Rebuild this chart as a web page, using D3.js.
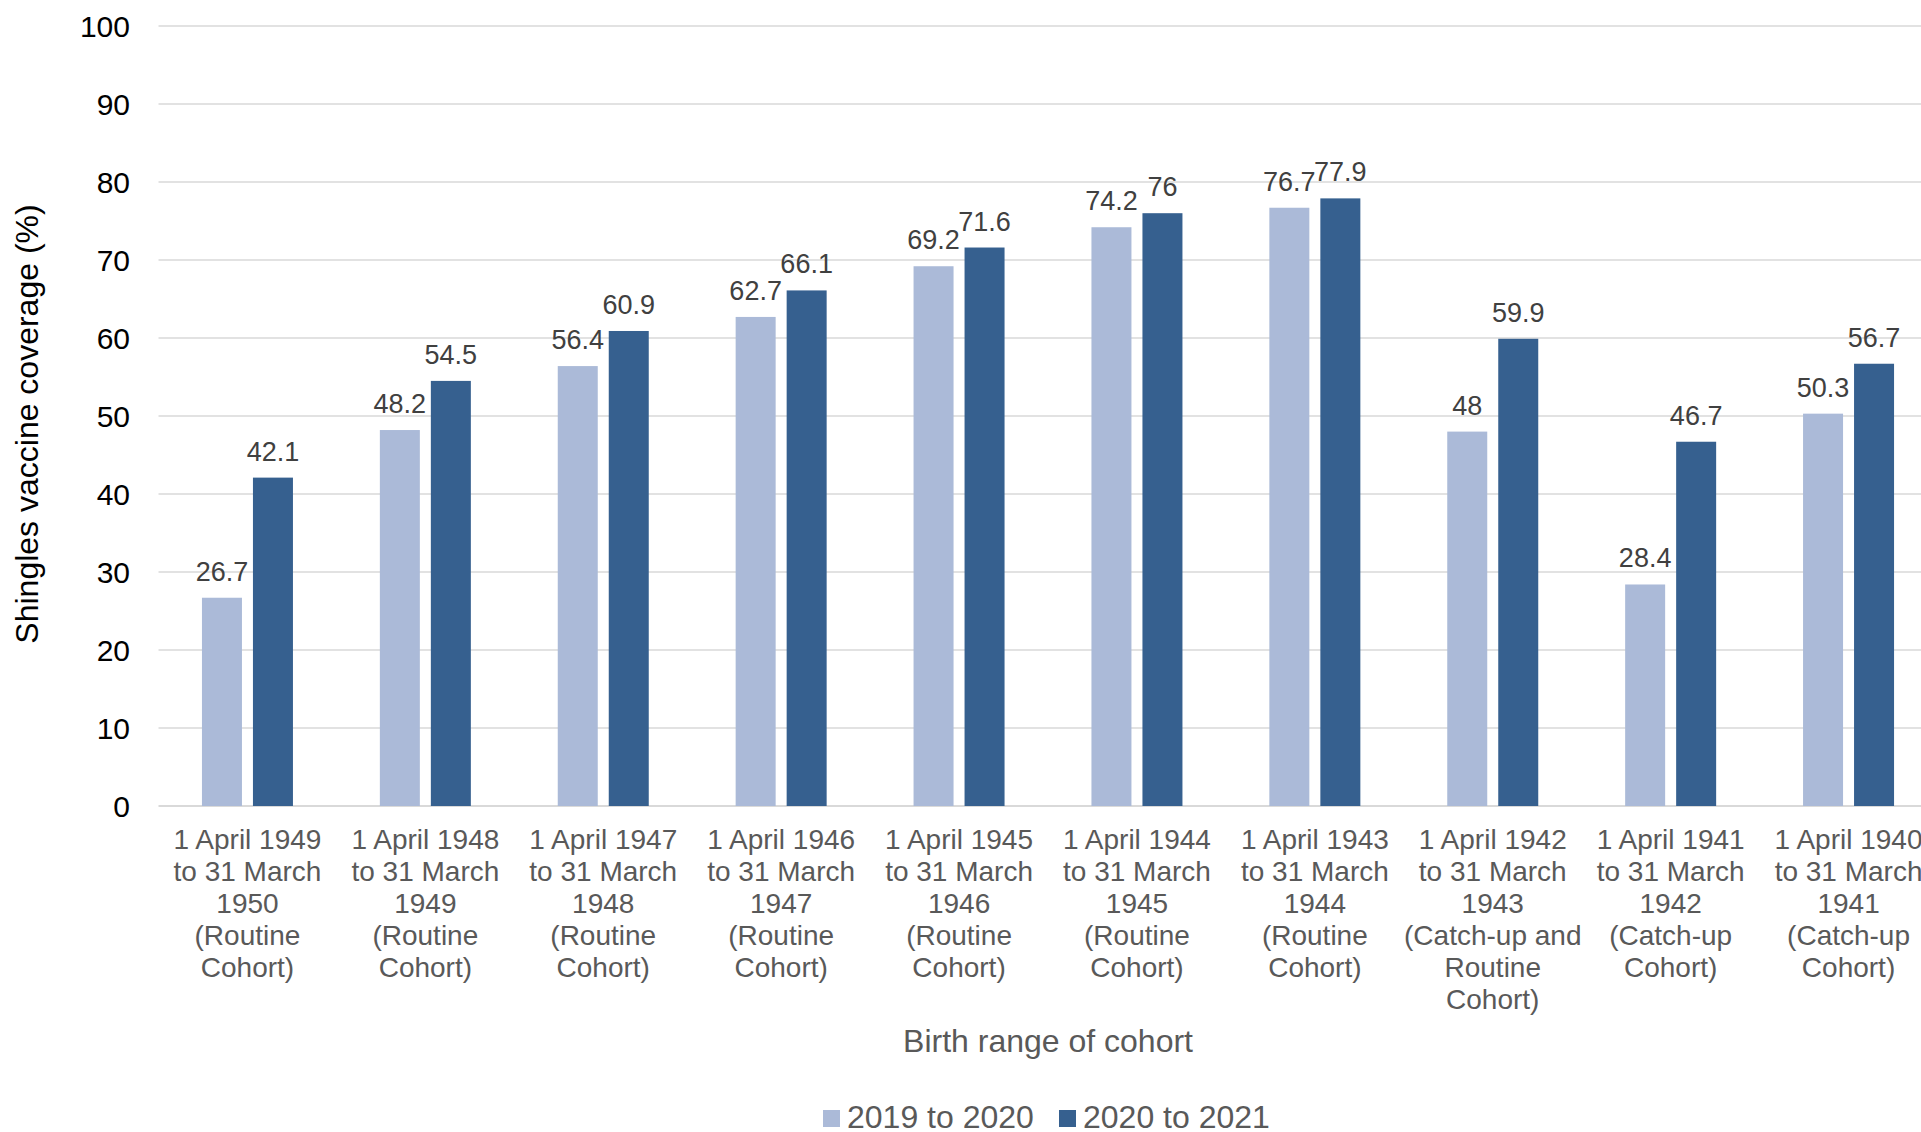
<!DOCTYPE html>
<html>
<head>
<meta charset="utf-8">
<script src="https://cdn.jsdelivr.net/npm/d3@7"></script>
<style>
  html, body { margin: 0; padding: 0; background: #fff; overflow: hidden; }
  svg { display: block; font-family: "Liberation Sans", Arial, sans-serif; }
</style>
</head>
<body>
<div id="chart"></div>
<script>
// cohort labels, each split into its printed lines
const categories = [
  ['1 April 1949', 'to 31 March', '1950', '(Routine', 'Cohort)'],
  ['1 April 1948', 'to 31 March', '1949', '(Routine', 'Cohort)'],
  ['1 April 1947', 'to 31 March', '1948', '(Routine', 'Cohort)'],
  ['1 April 1946', 'to 31 March', '1947', '(Routine', 'Cohort)'],
  ['1 April 1945', 'to 31 March', '1946', '(Routine', 'Cohort)'],
  ['1 April 1944', 'to 31 March', '1945', '(Routine', 'Cohort)'],
  ['1 April 1943', 'to 31 March', '1944', '(Routine', 'Cohort)'],
  ['1 April 1942', 'to 31 March', '1943', '(Catch-up and', 'Routine', 'Cohort)'],
  ['1 April 1941', 'to 31 March', '1942', '(Catch-up', 'Cohort)'],
  ['1 April 1940', 'to 31 March', '1941', '(Catch-up', 'Cohort)']
];
const seriesNames = ['2019 to 2020', '2020 to 2021'];
const values2019 = [26.7, 48.2, 56.4, 62.7, 69.2, 74.2, 76.7, 48, 28.4, 50.3];
const values2020 = [42.1, 54.5, 60.9, 66.1, 71.6, 76, 77.9, 59.9, 46.7, 56.7];
const yTicks = [0, 10, 20, 30, 40, 50, 60, 70, 80, 90, 100];

const colors = ['#abbad8', '#36608f'];
const W = 1921, H = 1132;

const svg = d3.select('#chart').append('svg')
  .attr('width', W)
  .attr('height', H);

const keys = categories.map((_, i) => i);

// the plot runs past the right edge of the picture, like the original
const x = d3.scaleBand().domain(keys).range([158.5, 1937.5]).padding(0);
const xs = d3.scaleBand().domain([0, 1]).range([-45.5, 45.5]).paddingInner(11 / 51).paddingOuter(0);
const y = d3.scaleLinear().domain([0, 100]).range([806, 26]);

// gridlines
svg.append('g')
  .selectAll('line')
  .data(yTicks)
  .join('line')
  .attr('x1', 158.5)
  .attr('x2', 1937.5)
  .attr('y1', d => y(d))
  .attr('y2', d => y(d))
  .attr('stroke', '#d9d9d9')
  .attr('stroke-width', d => d === 0 ? 2 : 1.6);

// y axis labels
const yAxis = svg.append('g')
  .attr('transform', 'translate(130,0)')
  .call(d3.axisLeft(y).tickValues(yTicks).tickSize(0).tickPadding(0));
yAxis.select('.domain').remove();
yAxis.selectAll('text')
  .attr('font-size', 30)
  .attr('font-family', '"Liberation Sans", Arial, sans-serif')
  .attr('fill', '#000')
  .attr('dy', '0.36em');

// bars
const series = [values2019, values2020];
const groups = svg.append('g')
  .selectAll('g')
  .data(keys)
  .join('g')
  .attr('transform', d => `translate(${x(d) + x.bandwidth() / 2},0)`);

groups.selectAll('rect')
  .data(i => series.map((s, k) => ({ k, v: s[i] })))
  .join('rect')
  .attr('x', d => xs(d.k))
  .attr('width', xs.bandwidth())
  .attr('y', d => y(d.v))
  .attr('height', d => y(0) - y(d.v))
  .attr('fill', d => colors[d.k]);

// value labels
groups.selectAll('text.val')
  .data(i => series.map((s, k) => ({ k, v: s[i] })))
  .join('text')
  .attr('class', 'val')
  .attr('x', d => xs(d.k) + xs.bandwidth() / 2)
  .attr('y', d => y(d.v) - 17)
  .attr('text-anchor', 'middle')
  .attr('font-size', 27)
  .attr('fill', '#404040')
  .text(d => d.v);

// category labels
const xAxis = svg.append('g')
  .attr('transform', `translate(0,${y(0)})`)
  .call(d3.axisBottom(x).tickSize(0).tickFormat(''));
xAxis.select('.domain').remove();
xAxis.selectAll('.tick text').remove();
xAxis.selectAll('.tick')
  .append('text')
  .attr('text-anchor', 'middle')
  .attr('font-size', 28)
  .attr('fill', '#595959')
  .selectAll('tspan')
  .data(i => categories[i])
  .join('tspan')
  .attr('x', 0)
  .attr('y', (d, j) => 43 + j * 31.9)
  .text(d => d);

// axis titles
svg.append('text')
  .attr('x', 1048)
  .attr('y', 1052)
  .attr('text-anchor', 'middle')
  .attr('font-size', 32)
  .attr('fill', '#595959')
  .text('Birth range of cohort');

svg.append('text')
  .attr('transform', 'translate(38,424) rotate(-90)')
  .attr('text-anchor', 'middle')
  .attr('font-size', 32)
  .attr('fill', '#000')
  .text('Shingles vaccine coverage (%)');

// legend
const legend = svg.append('g').attr('transform', 'translate(823,1128)');
const legendX = [0, 236];
const items = legend.selectAll('g')
  .data(seriesNames)
  .join('g')
  .attr('transform', (d, i) => `translate(${legendX[i]},0)`);
items.append('rect')
  .attr('x', 0)
  .attr('y', -18)
  .attr('width', 17)
  .attr('height', 17)
  .attr('fill', (d, i) => colors[i]);
items.append('text')
  .attr('x', 24)
  .attr('y', 0)
  .attr('font-size', 32)
  .attr('fill', '#595959')
  .text(d => d);
</script>
</body>
</html>
